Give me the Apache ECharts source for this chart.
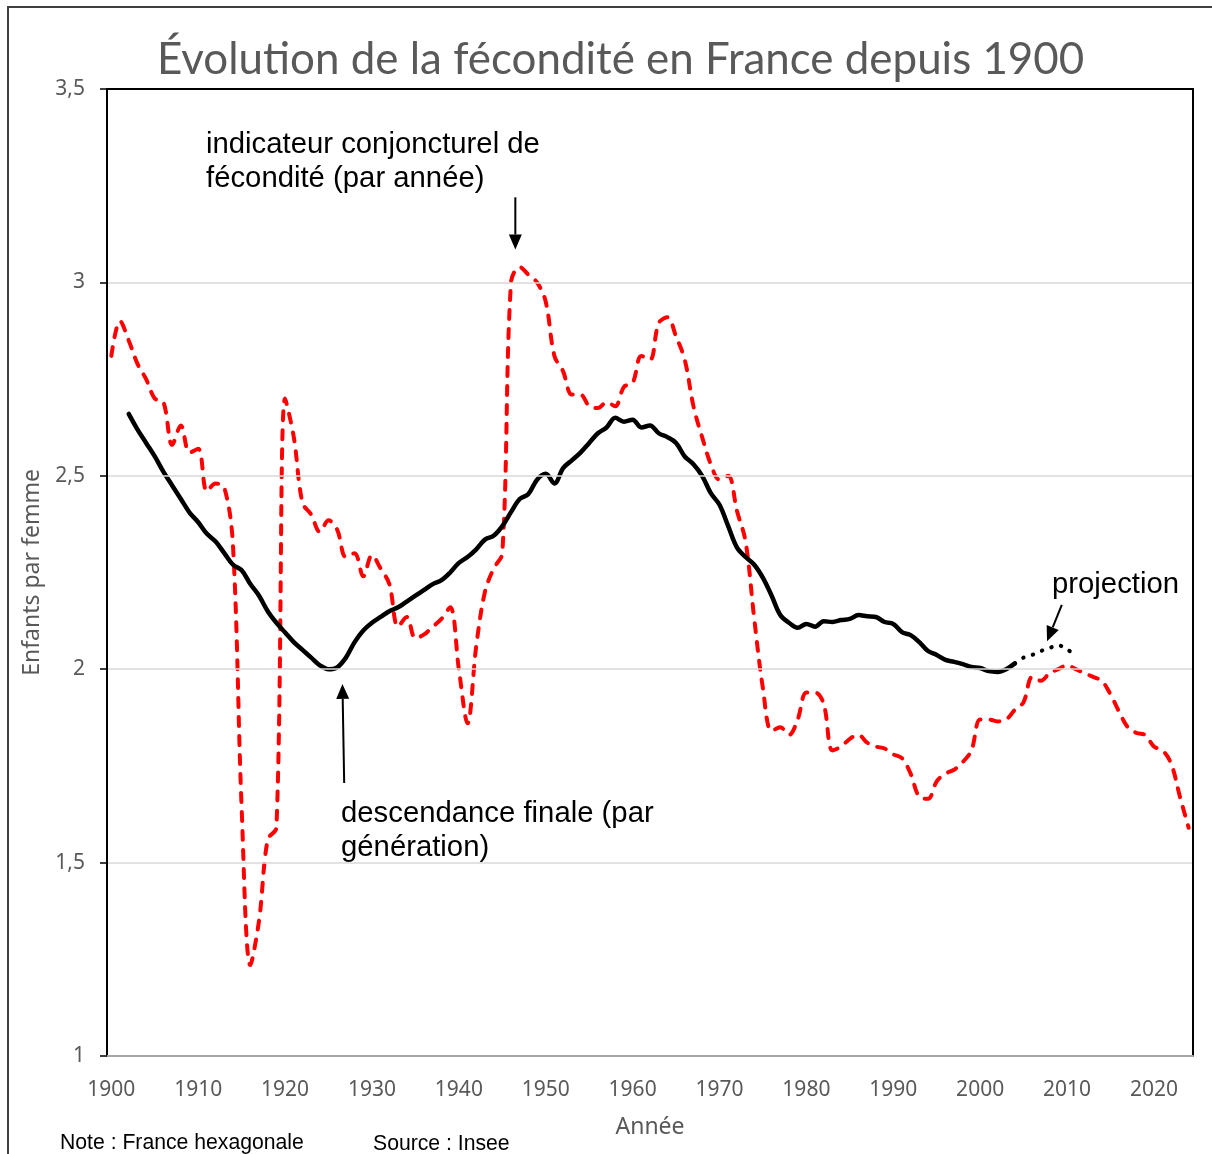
<!DOCTYPE html>
<html><head><meta charset="utf-8">
<script src="https://cdn.jsdelivr.net/npm/echarts@6/dist/echarts.min.js"></script>
<style>html,body{margin:0;padding:0;background:#fff}#c{width:1212px;height:1154px}</style>
</head><body><div id="c"></div><script>
// Categories: years 1900-2024
const firstYear = 1900, lastYear = 2024;
const years = [];
for (let y = firstYear; y <= lastYear; y++) years.push(String(y));

// Indicateur conjoncturel de fécondité (per year, 1900-2024)
const icf = [
  2.81, 2.90, 2.85, 2.79, 2.75, 2.70, 2.69, 2.58, 2.63, 2.56,
  2.57, 2.46, 2.48, 2.47, 2.32, 1.64, 1.235, 1.35, 1.56, 1.59,
  2.70, 2.60, 2.43, 2.40, 2.355, 2.385, 2.36, 2.29, 2.30, 2.24,
  2.295, 2.26, 2.22, 2.11, 2.135, 2.08, 2.09, 2.11, 2.13, 2.16,
  2.00, 1.86, 2.06, 2.20, 2.26, 2.30, 3.00, 3.04, 3.02, 3.00,
  2.95, 2.81, 2.77, 2.71, 2.71, 2.68, 2.675, 2.69, 2.68, 2.73,
  2.74, 2.81, 2.80, 2.895, 2.91, 2.86, 2.80, 2.68, 2.60, 2.53,
  2.49, 2.50, 2.41, 2.33, 2.13, 1.95, 1.84, 1.85, 1.83, 1.87,
  1.94, 1.94, 1.91, 1.79, 1.80, 1.82, 1.83, 1.81, 1.80, 1.795,
  1.78, 1.77, 1.73, 1.67, 1.665, 1.71, 1.73, 1.74, 1.76, 1.79,
  1.87, 1.87, 1.865, 1.87, 1.895, 1.915, 1.98, 1.97, 1.99, 2.00,
  2.01, 2.00, 1.99, 1.98, 1.97, 1.935, 1.89, 1.85, 1.835, 1.83,
  1.80, 1.79, 1.755, 1.67, 1.59
];

// Descendance finale par génération (1902-2004)
const descStart = 1902;
const descendance = [
  2.66, 2.62, 2.585, 2.55, 2.51, 2.475, 2.44, 2.405,
  2.38, 2.35, 2.33, 2.30, 2.27, 2.256, 2.22, 2.19, 2.15, 2.12,
  2.095, 2.07, 2.05, 2.03, 2.01, 2.00, 2.005, 2.03, 2.07, 2.10,
  2.12, 2.135, 2.15, 2.16, 2.175, 2.19, 2.205, 2.22, 2.23, 2.25,
  2.275, 2.29, 2.31, 2.335, 2.345, 2.37, 2.406, 2.44, 2.453, 2.49,
  2.505, 2.48, 2.52, 2.54, 2.56, 2.585, 2.61, 2.625, 2.65, 2.64,
  2.645, 2.625, 2.63, 2.61, 2.60, 2.585, 2.55, 2.53, 2.50, 2.455,
  2.425, 2.37, 2.315, 2.29, 2.27, 2.236, 2.19, 2.14, 2.12, 2.107,
  2.117, 2.11, 2.124, 2.122, 2.127, 2.13, 2.14, 2.137, 2.135, 2.122,
  2.117, 2.096, 2.088, 2.07, 2.047, 2.037, 2.024, 2.019, 2.013, 2.006,
  2.003, 1.995, 1.993, 2.00, 2.015
];

// Projection (2004-2011)
const projStart = 2004;
const projection = [2.015, 2.03, 2.037, 2.047, 2.055, 2.062, 2.05, 2.04];

// Y axis ticks
const yMin = 1, yMax = 3.5, yStep = 0.5;

function align(start, arr) {
  const out = years.map(() => null);
  arr.forEach((v, i) => { out[start - firstYear + i] = v; });
  return out;
}

const GRAY = '#595959';
const chart = echarts.init(document.getElementById('c'), null, {renderer: 'canvas'});

function fitFont(text, family, target) {
  const cv = document.createElement('canvas').getContext('2d');
  cv.font = '100px ' + family;
  return 100 * target / cv.measureText(text).width;
}
const titleText = 'Évolution de la fécondité en France depuis 1900';
const titleSize = Math.round(fitFont(titleText, 'Lato', 928) * 10) / 10;

const option = {
  animation: false,
  backgroundColor: '#fff',
  title: {
    text: titleText,
    left: 152,
    top: 33,
    textStyle: {color: GRAY, fontFamily: 'Lato', fontWeight: 'normal', fontSize: titleSize}
  },
  grid: {left: 107, right: 19, top: 89, bottom: 98},
  xAxis: [{
    type: 'category',
    data: years,
    boundaryGap: true,
    name: 'Année',
    nameLocation: 'middle',
    nameGap: 60,
    nameTextStyle: {color: GRAY, fontFamily: 'Noto Sans', fontSize: 23},
    axisLine: {show: true, lineStyle: {color: '#a6a6a6', width: 2}},
    axisTick: {show: false},
    axisLabel: {
      interval: (i, v) => Number(v) % 10 === 0,
      color: GRAY, fontFamily: 'Noto Sans', fontSize: 21, margin: 24
    },
    splitLine: {show: false},
    z: 5
  }, {
    type: 'category', data: years, position: 'top', boundaryGap: true,
    axisLine: {show: true, lineStyle: {color: '#000', width: 2}},
    axisTick: {show: false}, axisLabel: {show: false}, splitLine: {show: false}, z: 5
  }],
  yAxis: [{
    type: 'value',
    min: yMin, max: yMax, interval: yStep,
    name: 'Enfants par femme',
    nameLocation: 'middle',
    nameGap: 63,
    nameTextStyle: {color: GRAY, fontFamily: 'Noto Sans', fontSize: 23},
    axisLine: {show: true, lineStyle: {color: '#000', width: 2}},
    axisTick: {show: true, length: 7, lineStyle: {color: '#000', width: 1.5}},
    axisLabel: {
      formatter: v => String(v).replace('.', ','),
      color: GRAY, fontFamily: 'Noto Sans', fontSize: 21, margin: 22
    },
    splitLine: {show: true, lineStyle: {color: '#d9d9d9', width: 1.5}},
    z: 5
  }, {
    type: 'value', position: 'right', min: yMin, max: yMax, interval: yStep,
    axisLine: {show: true, lineStyle: {color: '#000', width: 2}},
    axisTick: {show: false}, axisLabel: {show: false}, splitLine: {show: false}, z: 5
  }],
  series: [
    {
      name: 'indicateur conjoncturel de fécondité',
      type: 'line', data: icf, symbol: 'none', smooth: 0.35,
      lineStyle: {color: '#ff0000', width: 4, type: [9, 10], cap: 'round'},
      z: 3
    },
    {
      name: 'descendance finale',
      type: 'line', data: align(descStart, descendance), symbol: 'none', smooth: 0.35,
      lineStyle: {color: '#000', width: 4.5, cap: 'round'},
      z: 4
    },
    {
      name: 'projection',
      type: 'line', data: align(projStart, projection), symbol: 'none', smooth: 0.35,
      lineStyle: {color: '#000', width: 4, type: [0.5, 9.5], cap: 'round'},
      z: 4
    }
  ]
};
chart.setOption(option);

// Annotations positioned from data coordinates (fractional year, value)
function px(year, val) {
  const p0 = chart.convertToPixel({xAxisIndex: 0, yAxisIndex: 0}, [0, val]);
  const p1 = chart.convertToPixel({xAxisIndex: 0, yAxisIndex: 0}, [years.length - 1, val]);
  const t = (year - firstYear) / (years.length - 1);
  return [p0[0] + (p1[0] - p0[0]) * t, p0[1]];
}
function arrow(from, to, headLen, headW) {
  const dx = to[0] - from[0], dy = to[1] - from[1];
  const L = Math.sqrt(dx * dx + dy * dy);
  const ux = dx / L, uy = dy / L;
  const bx = to[0] - ux * headLen, by = to[1] - uy * headLen;
  const nx = -uy, ny = ux;
  return [
    {type: 'line', shape: {x1: from[0], y1: from[1], x2: bx, y2: by},
     style: {stroke: '#000', lineWidth: 2}, z: 10},
    {type: 'polygon', shape: {points: [[to[0], to[1]], [bx + nx * headW / 2, by + ny * headW / 2], [bx - nx * headW / 2, by - ny * headW / 2]]},
     style: {fill: '#000'}, z: 10}
  ];
}
const annFont = '29.3px "Liberation Sans", Arial, sans-serif';
const noteFont = '21.2px "Liberation Sans", Arial, sans-serif';
const graphics = [];
graphics.push(...arrow(px(1946.5, 3.22), px(1946.5, 3.085), 15, 13));
graphics.push(...arrow(px(1926.8, 1.706), px(1926.6, 1.962), 15, 13));
graphics.push(...arrow(px(2009.4, 2.166), px(2007.7, 2.072), 15, 13));
graphics.push({type: 'text', left: 206, top: 128, z: 10,
  style: {text: 'indicateur conjoncturel de\nfécondité (par année)', font: annFont, fill: '#000', lineHeight: 34}});
graphics.push({type: 'text', left: 341, top: 797, z: 10,
  style: {text: 'descendance finale (par\ngénération)', font: annFont, fill: '#000', lineHeight: 34}});
graphics.push({type: 'text', left: 1052, top: 570, z: 10,
  style: {text: 'projection', font: annFont, fill: '#000'}});
graphics.push({type: 'text', left: 60, top: 1133, z: 10,
  style: {text: 'Note : France hexagonale', font: noteFont, fill: '#000'}});
graphics.push({type: 'text', left: 373, top: 1134, z: 10,
  style: {text: 'Source : Insee', font: noteFont, fill: '#000'}});
graphics.push({type: 'rect', shape: {x: 8, y: 7, width: 1400, height: 1400},
  style: {fill: 'none', stroke: '#404040', lineWidth: 2}, z: 0, silent: true});
chart.setOption({graphic: graphics});
</script></body></html>
